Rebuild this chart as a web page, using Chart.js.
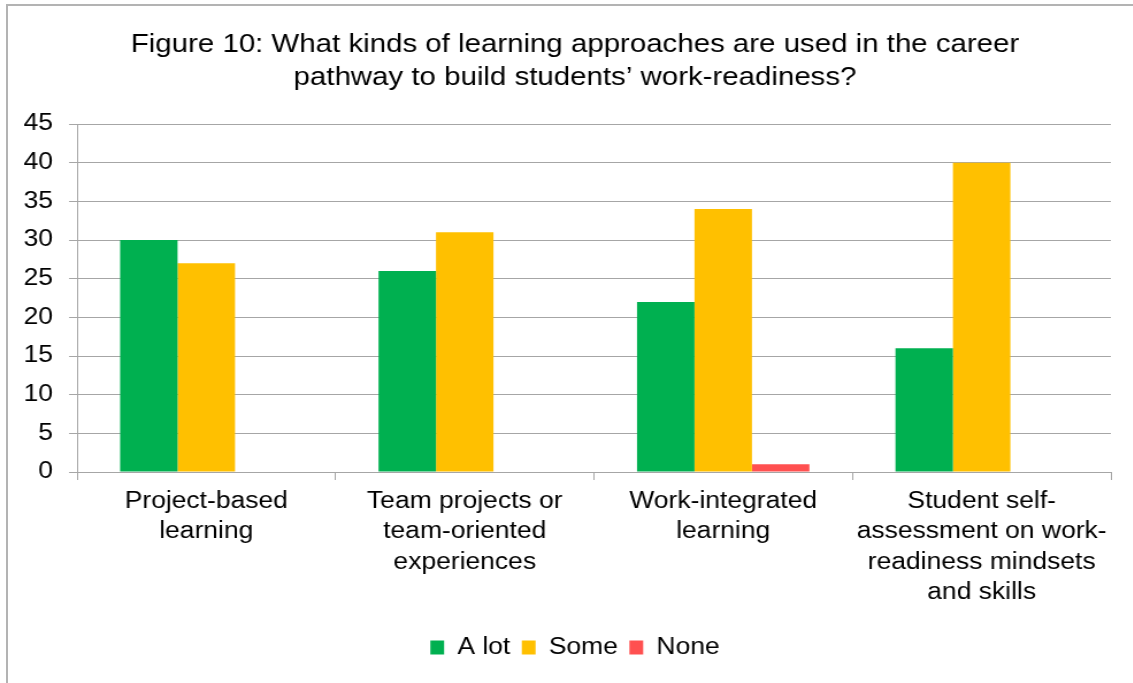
<!DOCTYPE html>
<html>
<head>
<meta charset="utf-8">
<script src="https://cdn.jsdelivr.net/npm/chart.js@4"></script>
<style>
  html, body { margin: 0; padding: 0; background: #fff; overflow: hidden; }
  #frame {
    position: absolute; left: 6px; top: 4px; width: 1200px; height: 760px;
    border-left: 2px solid #b3b3b3; border-top: 2px solid #b3b3b3;
  }
  /* 캔버스는 좁게 그리고 가로로 늘려서 표시 (오른쪽은 창 밖으로 잘림) */
  #bar { position: absolute; left: 0; top: 0; }
</style>
</head>
<body>
<div id="frame"></div>
<canvas id="bar" width="1000" height="683" style="width:1150px;height:683px"></canvas>
<script>
'use strict';

// 카테고리(x축 라벨, 줄바꿈 포함)
const categories = [
    ['Project-based', 'learning'],
    ['Team projects or', 'team-oriented', 'experiences'],
    ['Work-integrated', 'learning'],
    ['Student self-', 'assessment on work-', 'readiness mindsets', 'and skills']
];

// 응답 수
const aLot = [30, 26, 22, 16];
const some = [27, 31, 34, 40];
const none = [0, 0, 1, 0];

// y축 눈금
const yTicks = [0, 5, 10, 15, 20, 25, 30, 35, 40, 45];

const font = "'Liberation Sans', Arial, sans-serif";
const gridColor = '#a6a6a6';

const bar = document.getElementById('bar');
const barChart = new Chart(bar, {
    type: 'bar',
    data: {
        labels: categories,
        datasets: [
            { label: 'A lot', data: aLot, backgroundColor: '#00b050' },
            { label: 'Some', data: some, backgroundColor: '#ffc000' },
            { label: 'None', data: none, backgroundColor: '#ff5050' }
        ]
    },
    options: {
        responsive: false,
        animation: false,
        devicePixelRatio: 1,
        layout: { padding: { left: 0, right: 0, top: 0, bottom: 14 } },
        datasets: {
            bar: { categoryPercentage: 0.667, barPercentage: 1.0 }
        },
        plugins: {
            title: {
                display: true,
                text: ['Figure 10: What kinds of learning approaches are used in the career',
                       'pathway to build students\u2019 work-readiness?'],
                color: '#000',
                font: { family: font, size: 25.6, weight: 'normal', lineHeight: 1.27 },
                padding: { top: 29, bottom: 30 }
            },
            legend: {
                position: 'bottom',
                labels: {
                    color: '#000',
                    font: { family: font, size: 23 },
                    boxWidth: 12, boxHeight: 14,
                    padding: 10
                }
            },
            tooltip: { enabled: false }
        },
        scales: {
            x: {
                grid: {
                    offset: true,
                    drawOnChartArea: false,
                    color: gridColor,
                    tickLength: 8
                },
                border: { color: gridColor },
                ticks: {
                    color: '#000',
                    font: { family: font, size: 23, lineHeight: 1.33 },
                    padding: 6,
                    maxRotation: 0,
                    autoSkip: false
                },
                afterFit: (scale) => { scale.height = 154; }
            },
            y: {
                min: 0,
                max: 45,
                afterBuildTicks: (scale) => { scale.ticks = yTicks.map(v => ({ value: v })); },
                grid: { color: gridColor, tickLength: 7 },
                border: { color: gridColor },
                ticks: {
                    color: '#000',
                    font: { family: font, size: 23 },
                    padding: 14
                },
                afterFit: (scale) => { scale.width = 67; }
            },
            // 오른쪽 여백용 빈 축 (제목/범례는 전체 폭 기준으로 가운데 정렬)
            yRight: {
                position: 'right',
                grid: { display: false, drawTicks: false },
                border: { display: false },
                ticks: { display: false },
                afterFit: (scale) => { scale.width = 34; }
            }
        }
    }
});
</script>
</body>
</html>
